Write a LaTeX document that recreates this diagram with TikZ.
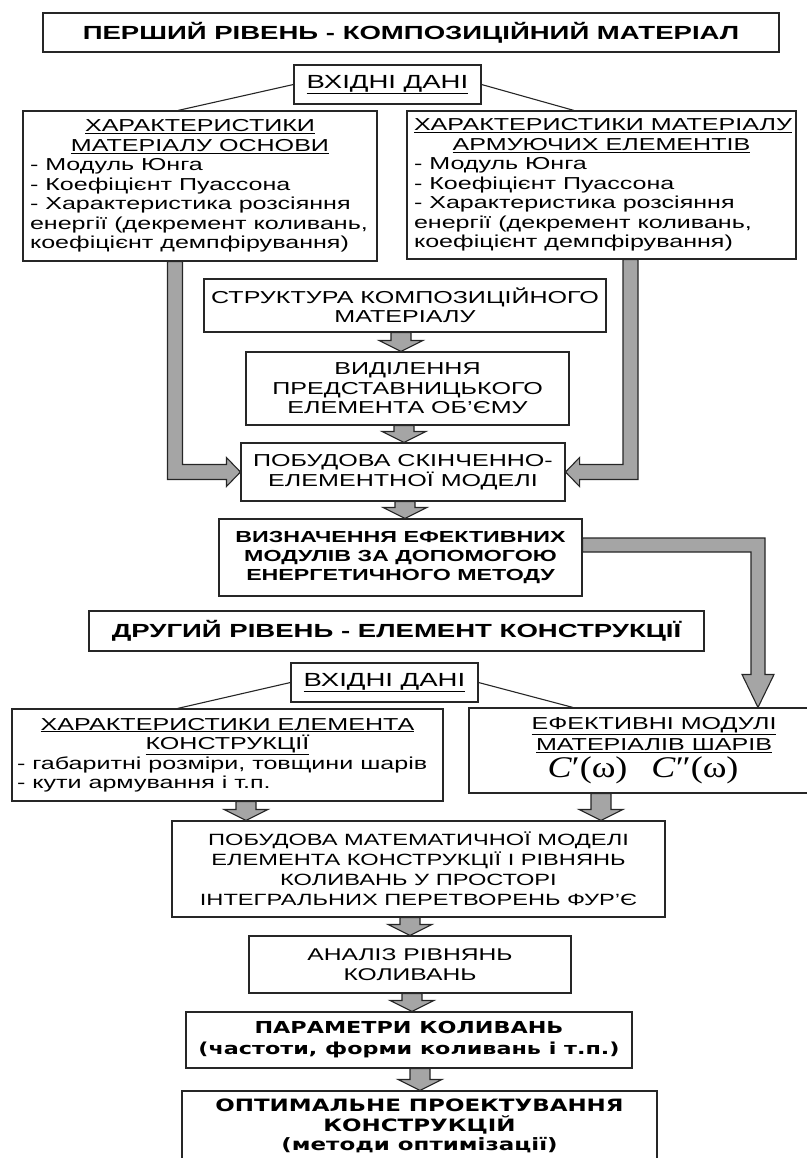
\documentclass[tikz,border=0pt]{standalone}
\usepackage{fontspec}
\setmainfont{Liberation Sans}[FakeStretch=1.45]
\newfontfamily\widefont{DejaVu Sans}[FakeStretch=1.35]
\newfontfamily\formulafont{Liberation Serif}[FakeStretch=1.2]
\usetikzlibrary{calc}
\definecolor{arrowgray}{RGB}{165,165,165}
\newcommand\bodyfont{\fontsize{17.3}{19.5}\selectfont}
\newcommand\headfont{\fontsize{19}{22}\selectfont\bfseries}

\begin{document}
\begin{tikzpicture}
  [x=1pt, y=-1pt,
   every node/.style={draw=black!85, line width=1.1pt, inner sep=0pt, align=center, font=\bodyfont},
   boxsize/.style 2 args={minimum width=#1, minimum height=#2},
   listbox/.style={align=none, inner xsep=7pt, inner ysep=0pt},
   link/.style={draw=black!85, line width=1.1pt},
   bar/.style={fill=arrowgray, draw=black!85, line width=1.1pt, line join=miter},
   blockdown/.style={bar,
     to path={([xshift=-10pt]\tikztostart) -- ([xshift=-10pt,yshift=11pt]\tikztotarget)
       -- ([xshift=-22pt,yshift=11pt]\tikztotarget) -- (\tikztotarget)
       -- ([xshift=22pt,yshift=11pt]\tikztotarget) -- ([xshift=10pt,yshift=11pt]\tikztotarget)
       -- ([xshift=10pt]\tikztostart) -- cycle}}]
  \useasboundingbox (0,0) rectangle (806,1158);

  % first level
  \node [boxsize={736}{39}, font=\headfont] (title1) at (411,32.5) {ПЕРШИЙ РІВЕНЬ - КОМПОЗИЦІЙНИЙ МАТЕРІАЛ};
  \node [boxsize={187}{39}, font=\fontsize{19}{22}\selectfont] (input1) at (387.5,84.5) {\underline{ВХІДНІ ДАНІ}};
  \node [listbox, text width=340, minimum height=150] (basechar) at (200,186)
    {\centering\underline{ХАРАКТЕРИСТИКИ}\\\underline{МАТЕРІАЛУ ОСНОВИ}\par
     \raggedright - Модуль Юнга\\- Коефіцієнт Пуассона\\- Характеристика розсіяння\\енергії (декремент коливань,\\коефіцієнт демпфірування)};
  \node [listbox, text width=375, minimum height=148] (reinfchar) at (601.5,185)
    {\centering\underline{ХАРАКТЕРИСТИКИ МАТЕРІАЛУ}\\\underline{АРМУЮЧИХ ЕЛЕМЕНТІВ}\par
     \raggedright - Модуль Юнга\\- Коефіцієнт Пуассона\\- Характеристика розсіяння\\енергії (декремент коливань,\\коефіцієнт демпфірування)};
  \node [boxsize={402}{53}] (struct) at (405,305.5) {СТРУКТУРА КОМПОЗИЦІЙНОГО\\МАТЕРІАЛУ};
  \node [boxsize={323}{73}] (rve) at (407.5,388.5) {ВИДІЛЕННЯ\\ПРЕДСТАВНИЦЬКОГО\\ЕЛЕМЕНТА ОБ’ЄМУ};
  \node [boxsize={324}{58}] (fem) at (403,472) {ПОБУДОВА СКІНЧЕННО-\\ЕЛЕМЕНТНОЇ МОДЕЛІ};
  \node [boxsize={363}{77}, font=\fontsize{16}{19}\selectfont\bfseries] (effmod) at (400.5,557.5)
    {ВИЗНАЧЕННЯ ЕФЕКТИВНИХ\\МОДУЛІВ ЗА ДОПОМОГОЮ\\ЕНЕРГЕТИЧНОГО МЕТОДУ};

  % second level
  \node [boxsize={615}{40}, font=\headfont] (title2) at (396.5,631) {ДРУГИЙ РІВЕНЬ - ЕЛЕМЕНТ КОНСТРУКЦІЇ};
  \node [boxsize={187}{39}, font=\fontsize{19}{22}\selectfont] (input2) at (384.5,682.5) {\underline{ВХІДНІ ДАНІ}};
  \node [listbox, inner xsep=5pt, text width=421, minimum height=92] (elemchar) at (227.5,755)
    {\centering\underline{ХАРАКТЕРИСТИКИ ЕЛЕМЕНТА}\\\underline{КОНСТРУКЦІЇ}\par
     \raggedright - габаритні розміри, товщини шарів\\- кути армування і т.п.};
  \node [boxsize={370}{85}, font=\fontsize{17.3}{21}\selectfont] (layermod) at (654,750.5)
    {\underline{ЕФЕКТИВНІ МОДУЛІ}\\\underline{МАТЕРІАЛІВ ШАРІВ}\\[3pt]
     \hspace*{-22pt}{\formulafont\fontsize{30}{30}\selectfont\textit{C}′(ω)\hspace{24pt}\textit{C}″(ω)}};
  \node [boxsize={493}{96}, font=\fontsize{16.3}{20}\selectfont] (mathmod) at (418.5,869)
    {ПОБУДОВА МАТЕМАТИЧНОЇ МОДЕЛІ\\ЕЛЕМЕНТА КОНСТРУКЦІЇ І РІВНЯНЬ\\КОЛИВАНЬ У ПРОСТОРІ\\ІНТЕГРАЛЬНИХ ПЕРЕТВОРЕНЬ ФУР’Є};
  \node [boxsize={322}{57}, font=\fontsize{17}{20}\selectfont] (analysis) at (410,964.5) {АНАЛІЗ РІВНЯНЬ\\КОЛИВАНЬ};
  \node [boxsize={446}{56}, font=\widefont\fontsize{16.5}{21}\selectfont\bfseries] (params) at (409,1040)
    {ПАРАМЕТРИ КОЛИВАНЬ\\(частоти, форми коливань і т.п.)};
  \node [boxsize={475}{70}, font=\widefont\fontsize{17}{19.5}\selectfont\bfseries] (optim) at (419.5,1126)
    {ОПТИМАЛЬНЕ ПРОЕКТУВАННЯ\\КОНСТРУКЦІЙ\\(методи оптимізації)};

  % input links
  \draw [link] (input1.west) -- ([xshift=-22pt]basechar.north);
  \draw [link] (input1.east) -- ([xshift=-27.5pt]reinfchar.north);
  \draw [link] (input2.west) -- ([xshift=-50pt]elemchar.north);
  \draw [link] (input2.east) -- ([xshift=-81pt]layermod.north);

  % straight block arrows
  \draw [blockdown] (struct.south -| 401,0) to (rve.north -| 401,0);
  \draw [blockdown] (rve.south -| 404,0) to (fem.north -| 404,0);
  \draw [blockdown] (fem.south -| 405,0) to (effmod.north -| 405,0);
  \draw [blockdown] (elemchar.south -| 246,0) to (mathmod.north -| 246,0);
  \draw [blockdown] (layermod.south -| 601,0) to (mathmod.north -| 601,0);
  \draw [blockdown] (mathmod.south -| 410,0) to (analysis.north -| 410,0);
  \draw [blockdown] (analysis.south -| 412,0) to (params.north -| 412,0);
  \draw [blockdown] (params.south -| 420,0) to (optim.north -| 420,0);

  % bent block arrows
  \coordinate (lbend) at (fem.west -| 175,0);
  \coordinate (rbend) at (fem.east -| 630.5,0);
  \coordinate (effout) at ([yshift=12.5pt]effmod.east);
  \coordinate (efftip) at (layermod.north -| 758,0);
  \coordinate (effbend) at (effout -| efftip);
  \filldraw [bar] ($(basechar.south -| lbend)+(-7.5,0)$) -- ($(lbend)+(-7.5,7.5)$)
    -- ($(fem.west)+(-14,7.5)$) -- ($(fem.west)+(-14,14.5)$) -- (fem.west)
    -- ($(fem.west)+(-14,-14.5)$) -- ($(fem.west)+(-14,-7.5)$) -- ($(lbend)+(7.5,-7.5)$)
    -- ($(basechar.south -| lbend)+(7.5,0)$) -- cycle;
  \filldraw [bar] ($(reinfchar.south -| rbend)+(7.5,0)$) -- ($(rbend)+(7.5,7.5)$)
    -- ($(fem.east)+(14,7.5)$) -- ($(fem.east)+(14,14.5)$) -- (fem.east)
    -- ($(fem.east)+(14,-14.5)$) -- ($(fem.east)+(14,-7.5)$) -- ($(rbend)+(-7.5,-7.5)$)
    -- ($(reinfchar.south -| rbend)+(-7.5,0)$) -- cycle;
  \filldraw [bar] ($(effout)+(0,-7)$) -- ($(effbend)+(7,-7)$) -- ($(efftip)+(7,-33)$)
    -- ($(efftip)+(16,-33)$) -- (efftip) -- ($(efftip)+(-16,-33)$) -- ($(efftip)+(-7,-33)$)
    -- ($(effbend)+(-7,7)$) -- ($(effout)+(0,7)$) -- cycle;
\end{tikzpicture}
\end{document}
